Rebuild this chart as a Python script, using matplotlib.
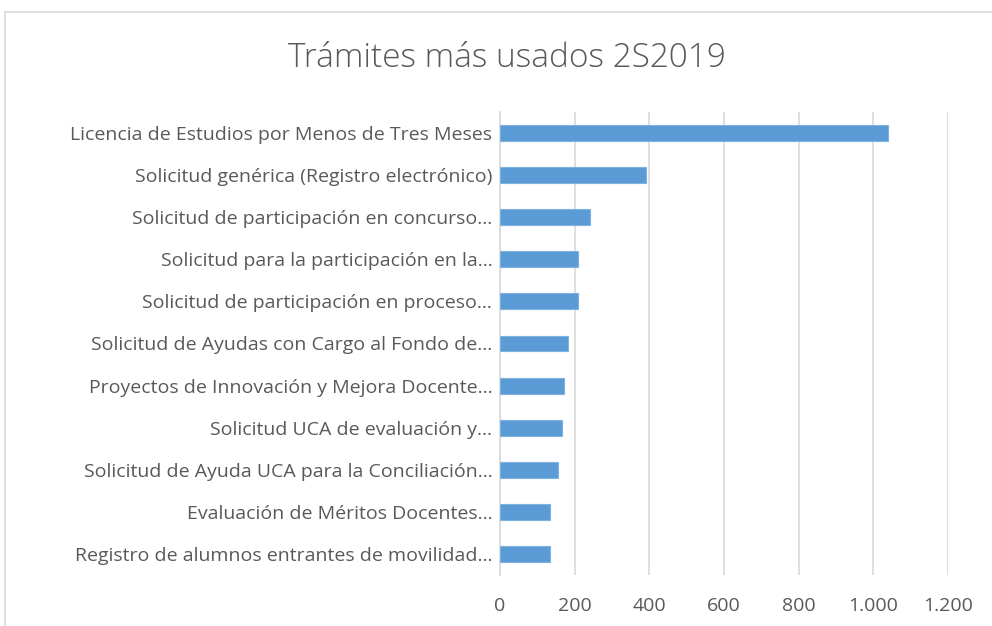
import matplotlib.pyplot as plt
from matplotlib.ticker import FuncFormatter
from matplotlib.lines import Line2D

plt.rcParams['font.family'] = ['Open Sans', 'DejaVu Sans']

categorias = [
    'Licencia de Estudios por Menos de Tres Meses',
    'Solicitud genérica (Registro electrónico)',
    'Solicitud de participación en concurso...',
    'Solicitud para la participación en la...',
    'Solicitud de participación en proceso...',
    'Solicitud de Ayudas con Cargo al Fondo de...',
    'Proyectos de Innovación y Mejora Docente...',
    'Solicitud UCA de evaluación y...',
    'Solicitud de Ayuda UCA para la Conciliación...',
    'Evaluación de Méritos Docentes...',
    'Registro de alumnos entrantes de movilidad...',
]
usos = [1039, 391, 241, 210, 210, 183, 172, 167, 156, 135, 135]
ticks_x = [0, 200, 400, 600, 800, 1000, 1200]

gris = '#595959'
azul = '#5B9BD5'

fig = plt.figure(figsize=(9.92, 6.26), dpi=100)
ax = fig.add_axes([500/992, 1 - 575/626, 448/992, 463/626])

pos = list(range(len(categorias)))
ax.barh(pos, usos, height=0.38, color=azul, edgecolor='#7FB2E0', linewidth=0.8, zorder=3)
ax.set_ylim(len(categorias) - 0.5, -0.5)
ax.set_yticks(pos)
ax.set_yticklabels(categorias, fontsize=14, color=gris)
ax.set_xlim(0, 1200)
ax.set_xticks(ticks_x)
ax.xaxis.set_major_formatter(FuncFormatter(lambda v, p: f'{int(v):,}'.replace(',', '.')))
ax.tick_params(axis='x', colors=gris, labelsize=14, length=0, pad=16)
ax.tick_params(axis='y', length=0, pad=5.5)
ax.grid(axis='x', color='#D9D9D9', linewidth=1.2, zorder=0)
for s in ['top', 'right', 'bottom']:
    ax.spines[s].set_visible(False)
ax.spines['left'].set_color('#D9D9D9')
ax.spines['left'].set_linewidth(1.2)

fig.text(507/992, 1 - 58/626, 'Trámites más usados 2S2019', ha='center', va='center',
         fontsize=24, color=gris, fontweight='light')

# borde del área del gráfico
fig.add_artist(Line2D([5/992, 5/992], [0, 1 - 12/626], color='#D9D9D9', linewidth=1.2))
fig.add_artist(Line2D([5/992, 1], [1 - 12/626, 1 - 12/626], color='#D9D9D9', linewidth=1.2))

fig.savefig('out.png', dpi=100, facecolor='white')
